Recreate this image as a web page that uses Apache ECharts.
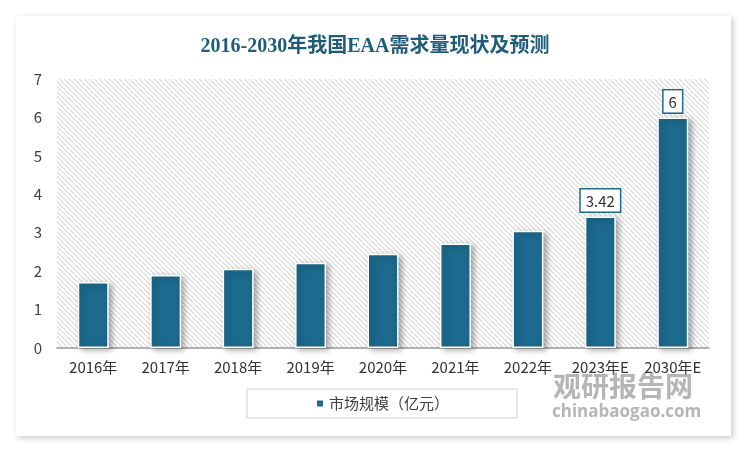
<!DOCTYPE html>
<html>
<head>
<meta charset="utf-8">
<script src="https://cdn.jsdelivr.net/npm/echarts@6/dist/echarts.min.js"></script>
<style>
  html, body { margin: 0; padding: 0; background: #fff; }
  .card {
    position: absolute; left: 16px; top: 16px; width: 715px; height: 420px;
    background: #fff; box-shadow: 2px 2px 6px rgba(0, 0, 0, 0.22);
  }
  .chart { position: absolute; left: 0; top: 0; width: 750px; height: 452px; }
</style>
</head>
<body>
<div class="card"></div>
<div class="chart" id="chart"></div>
<script>
const categories = ['2016年', '2017年', '2018年', '2019年', '2020年', '2021年', '2022年', '2023年E', '2030年E'];
const marketSize = [1.72, 1.9, 2.06, 2.22, 2.45, 2.72, 3.05, 3.42, 6];
const labelledIndex = [7, 8];
const seriesName = '市场规模（亿元）';

// light diagonal hatch for the plot background
function hatch() {
  const n = 5;
  const c = document.createElement('canvas');
  c.width = n;
  c.height = n;
  const ctx = c.getContext('2d');
  ctx.fillStyle = '#ffffff';
  ctx.fillRect(0, 0, n, n);
  for (let i = 0; i < n; i++) {
    ctx.fillStyle = '#d8d8d8';
    ctx.fillRect(i, i, 1, 1);
    ctx.fillStyle = '#ededed';
    ctx.fillRect((i + 1) % n, i, 1, 1);
  }
  return c;
}

const chart = echarts.init(document.getElementById('chart'));
const font = "'Noto Sans CJK SC', 'Noto Sans', sans-serif";

const option = {
  backgroundColor: 'transparent',
  animation: false,
  title: {
    text: '2016-2030年我国EAA需求量现状及预测',
    left: 'center',
    top: 32,
    textStyle: {
      color: '#1f5c7a',
      fontSize: 20,
      fontWeight: 'bold',
      fontFamily: "'Liberation Serif', 'Noto Sans CJK SC', serif",
    },
  },
  grid: {
    left: 57,
    right: 41,
    top: 79,
    bottom: 104,
    show: true,
    borderWidth: 0,
    backgroundColor: { image: hatch(), repeat: 'repeat' },
  },
  legend: {
    left: 247,
    top: 389,
    padding: [7, 68, 7, 68],
    borderColor: '#d0d0d0',
    borderWidth: 1,
    icon: 'rect',
    itemWidth: 8,
    itemHeight: 8,
    itemGap: 5,
    textStyle: { color: '#404040', fontSize: 15, fontFamily: font },
    data: [seriesName],
  },
  xAxis: {
    type: 'category',
    data: categories,
    axisTick: { show: false },
    axisLine: { lineStyle: { color: '#999', width: 1.5 } },
    axisLabel: { color: '#333', fontSize: 15, margin: 12, fontFamily: font, interval: 0 },
  },
  yAxis: {
    type: 'value',
    min: 0,
    max: 7,
    interval: 1,
    axisLine: { show: false },
    axisTick: { show: false },
    splitLine: { show: false },
    axisLabel: { color: '#404040', fontSize: 15, margin: 15, fontFamily: font },
  },
  series: [
    {
      name: seriesName,
      type: 'bar',
      barWidth: 31,
      itemStyle: {
        color: '#1c6a8d',
        borderColor: '#fff',
        borderWidth: 1.5,
        shadowColor: 'rgba(0, 0, 0, 0.35)',
        shadowBlur: 6,
        shadowOffsetX: 3,
        shadowOffsetY: 2,
      },
      data: marketSize.map((v, i) => ({
        value: v,
        label: {
          show: labelledIndex.includes(i),
          position: 'top',
          distance: 5,
          color: '#333',
          fontSize: 15,
          fontFamily: font,
          backgroundColor: '#fff',
          borderColor: '#1f6a8a',
          borderWidth: 1.5,
          padding: [4, 5, 3, 5],
        },
      })),
    },
  ],
  graphic: [
    {
      type: 'text',
      left: 553,
      top: 372,
      z: 100,
      style: { text: '观研报告网', fill: 'rgba(120,120,120,0.55)', font: "bold 28px 'Noto Sans CJK SC'" },
    },
    {
      type: 'text',
      left: 552,
      top: 404,
      z: 100,
      style: { text: 'chinabaogao.com', fill: 'rgba(120,120,120,0.55)', font: "bold 17px 'Open Sans'" },
    },
  ],
};

chart.setOption(option);
</script>
</body>
</html>
